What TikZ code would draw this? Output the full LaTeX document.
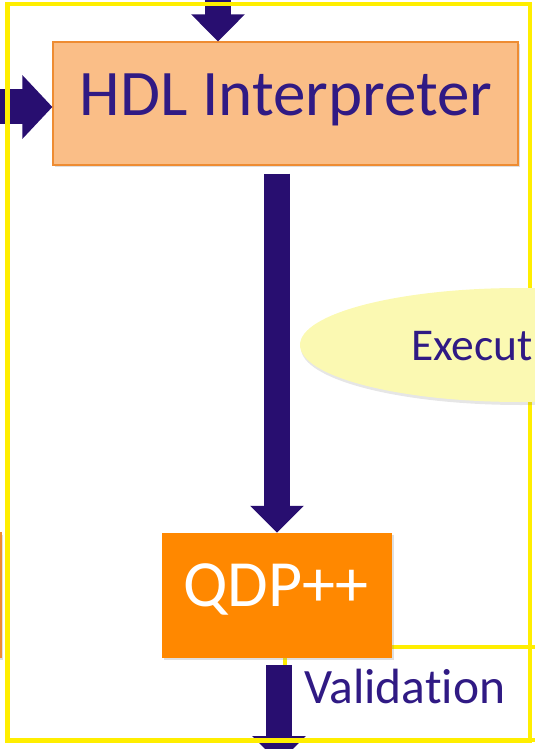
\documentclass[tikz,border=0pt]{standalone}
\usepackage{fontspec}
\setmainfont{Carlito}[Ligatures=NoCommon]
\usetikzlibrary{positioning, arrows.meta, shapes.geometric, shadows}

\definecolor{framey}{RGB}{255,238,0}
\definecolor{peach}{RGB}{250,190,135}
\definecolor{peachline}{RGB}{238,140,50}
\definecolor{qdporange}{RGB}{255,136,0}
\definecolor{arrowblue}{RGB}{40,14,112}
\definecolor{textblue}{RGB}{48,26,132}
\definecolor{paleyellow}{RGB}{251,249,178}

\begin{document}
\begin{tikzpicture}
    [
        x=1pt, y=-1pt, inner sep=0pt,
        frame_line/.style={draw=framey, line width=4.5pt},
        peach_box/.style={rectangle, draw=peachline, fill=peach, line width=1.2pt, drop shadow={shadow xshift=1.5pt, shadow yshift=-2pt, opacity=0.25}},
        orange_box/.style={rectangle, fill=qdporange, drop shadow={shadow xshift=1.5pt, shadow yshift=-2pt, opacity=0.25}},
        fat_arrow/.style={-{Triangle[length=27pt, width=52pt]}, line width=26pt, color=arrowblue},
        blue_text/.style={text=textblue},
    ]
        \useasboundingbox (0,0) rectangle (535,749) ;
        \clip (0,0) rectangle (535,749) ;

        % validation area under the qdp box
        \draw[frame_line] (285,647) rectangle (560,740) ;

        \node[peach_box, minimum width=122pt, minimum height=125pt] (prev) at (-60,595) {} ;
        \node[peach_box, minimum width=465pt, minimum height=123pt] (hdl) at (285.5,103.5) {} ;
        \node[blue_text, anchor=base, font=\fontsize{65}{72}\selectfont] (hdltext) at (286,116) {HDL Interpreter} ;
        \node[orange_box, minimum width=230pt, minimum height=125pt] (qdp) at (277,595.5) {} ;
        \node[text=white, anchor=base, font=\fontsize{66}{72}\selectfont] (qdptext) at (276,606) {QDP++} ;

        \coordinate (hdlin) at (218,-10) ;
        \coordinate (cfgin) at (-10,107) ;
        \coordinate (qdpout) at (279,763) ;
        \draw[fat_arrow] (hdlin) -- (hdl.north -| hdlin) ;
        \draw[fat_arrow, line width=35pt, -{Triangle[length=30pt, width=62pt]}] (cfgin) -- (hdl.west |- cfgin) ;
        \draw[fat_arrow, shorten <=8pt] (hdl.south -| qdp.north) -- (qdp.north) ;
        \draw[fat_arrow, shorten <=7pt] (qdp.south -| qdpout) -- (qdpout) ;

        % outer frame goes over the arrows
        \draw[frame_line] (7.5,4) -- (530,4) -- (530,740.5) -- (7.5,740.5) -- cycle ;

        \node[ellipse, fill=paleyellow, minimum width=440pt, minimum height=114pt, drop shadow={shadow xshift=1pt, shadow yshift=-3pt, opacity=0.2}] (exec) at (520,345) {} ;
        \node[blue_text, anchor=base west, font=\fontsize{45.5}{52}\selectfont] (exectext) at (411,360) {Execut} ;
        \node[blue_text, anchor=base west, font=\fontsize{49.5}{56}\selectfont] (valid) at (304,703) {Validation} ;
\end{tikzpicture}
\end{document}
